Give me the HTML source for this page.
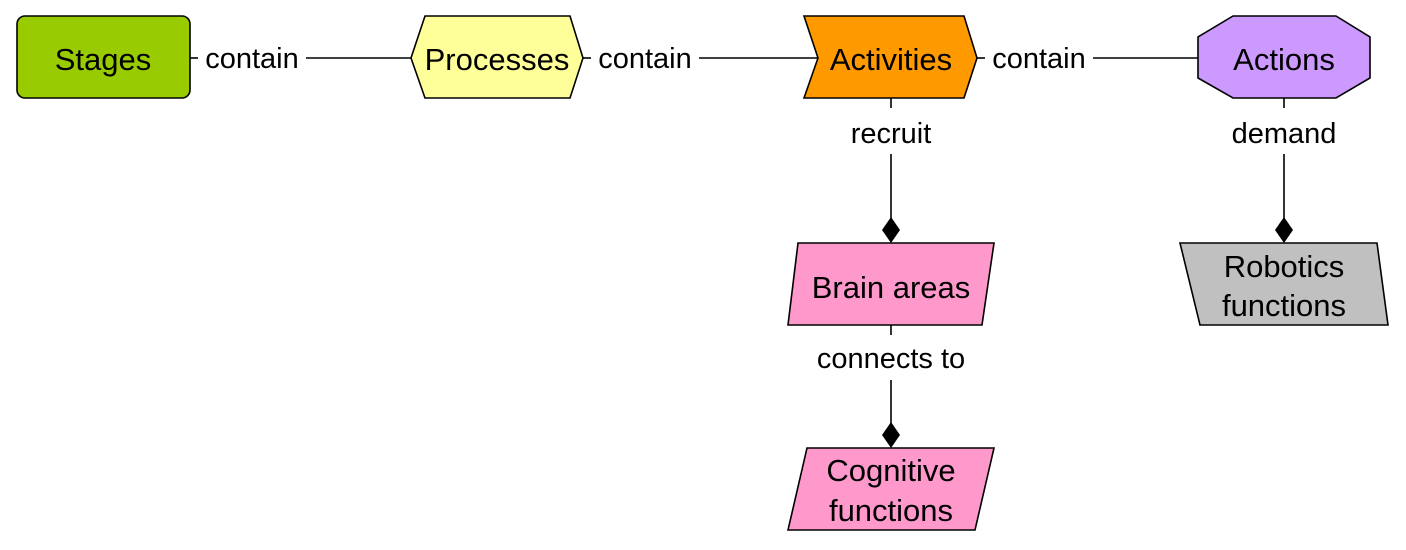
<!DOCTYPE html>
<html><head><style>html,body{margin:0;padding:0;background:#fff}svg{display:block}</style></head>
<body>
<svg width="1406" height="550" viewBox="0 0 1406 550" xmlns="http://www.w3.org/2000/svg" font-family="Liberation Sans, Arial, sans-serif" font-size="31">
<g stroke="#000" stroke-width="1.6" fill="none">
<line x1="190" y1="58" x2="198" y2="58"/><line x1="306" y1="58" x2="411" y2="58"/>
<line x1="583" y1="58" x2="591" y2="58"/><line x1="699" y1="58" x2="818" y2="58"/>
<line x1="977" y1="58" x2="985" y2="58"/><line x1="1093" y1="58" x2="1198" y2="58"/>
<line x1="891" y1="98" x2="891" y2="108"/><line x1="891" y1="154" x2="891" y2="220"/>
<line x1="1284" y1="98" x2="1284" y2="108"/><line x1="1284" y1="154" x2="1284" y2="220"/>
<line x1="891" y1="325" x2="891" y2="335"/><line x1="891" y1="380" x2="891" y2="424"/>
</g>
<g fill="#000">
<polygon points="891,217 900,230 891,243 882,230"/>
<polygon points="1284,217 1293,230 1284,243 1275,230"/>
<polygon points="891,422 900,435 891,448 882,435"/>
</g>
<g stroke="#000" stroke-width="1.6">
<rect x="17" y="16" width="173" height="82" rx="8" fill="#99cc00"/>
<polygon points="425,16 570,16 583,58 570,98 425,98 411,58" fill="#ffff99"/>
<polygon points="804,16 964,16 977,58 964,98 804,98 818,58" fill="#ff9900"/>
<polygon points="1233,16 1336,16 1370,37 1370,78 1336,98 1233,98 1198,78 1198,37" fill="#cc99ff"/>
<polygon points="798,243 994,243 982,325 788,325" fill="#ff99cc"/>
<polygon points="807,448 994,448 975,530 788,530" fill="#ff99cc"/>
<polygon points="1180,243 1377,243 1388,325 1200,325" fill="#c0c0c0"/>
</g>
<g fill="#000" text-anchor="middle">
<text x="103" y="70">Stages</text>
<text x="497" y="70">Processes</text>
<text x="891" y="70">Activities</text>
<text x="1284" y="70">Actions</text>
<text x="891" y="298">Brain areas</text>
<text x="891" y="481">Cognitive</text>
<text x="891" y="521">functions</text>
<text x="1284" y="277">Robotics</text>
<text x="1284" y="316">functions</text>
<g font-size="29">
<text x="252" y="68">contain</text>
<text x="645" y="68">contain</text>
<text x="1039" y="68">contain</text>
<text x="891" y="143">recruit</text>
<text x="1284" y="143">demand</text>
<text x="891" y="368">connects to</text>
</g>
</g>
</svg>
</body></html>
